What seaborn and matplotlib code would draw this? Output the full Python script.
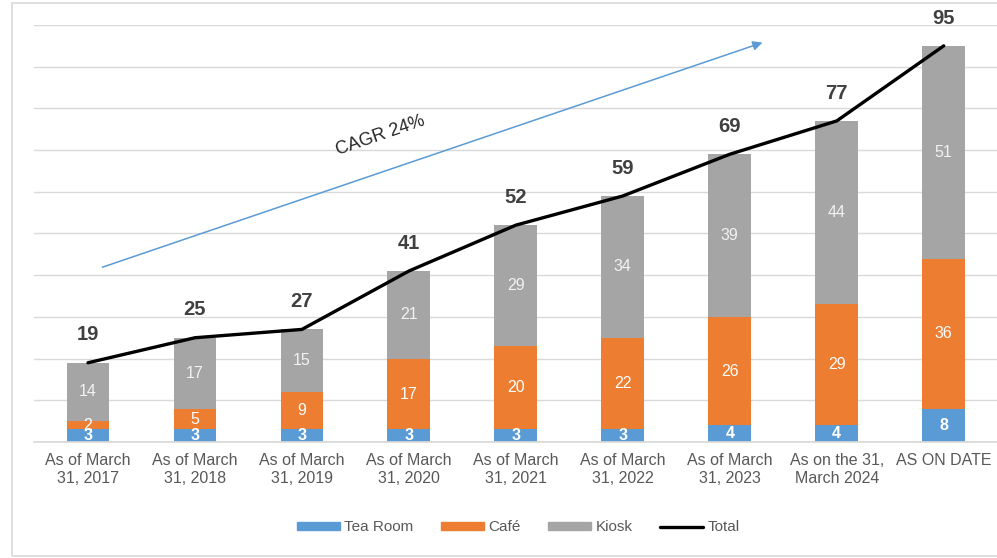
import numpy as np
import pandas as pd
import matplotlib.pyplot as plt
import seaborn as sns
from matplotlib.patches import Rectangle, Patch
from matplotlib.lines import Line2D

# chart data
periods = ["As of March\n31, 2017", "As of March\n31, 2018", "As of March\n31, 2019",
           "As of March\n31, 2020", "As of March\n31, 2021", "As of March\n31, 2022",
           "As of March\n31, 2023", "As on the 31,\nMarch 2024", "AS ON DATE"]
tea_room = [3, 3, 3, 3, 3, 3, 4, 4, 8]
cafe = [2, 5, 9, 17, 20, 22, 26, 29, 36]
kiosk = [14, 17, 15, 21, 29, 34, 39, 44, 51]
cagr_label = "CAGR 24%"

BLUE, ORANGE, GRAY = "#5B9BD5", "#ED7D31", "#A5A5A5"

sns.set_theme(style="white")
plt.rcParams['font.family'] = ['Liberation Sans', 'DejaVu Sans']

df = pd.DataFrame({"period": periods, "tea": tea_room, "cafe": cafe, "kiosk": kiosk})
df["tea_cafe"] = df["tea"] + df["cafe"]
df["total"] = df["tea_cafe"] + df["kiosk"]

fig = plt.figure(figsize=(9.97, 5.58), dpi=100)
fig.patch.set_facecolor("white")
ax = fig.add_axes([0.0346, 0.2079, 0.9656, 0.7473])

# stacked bars by overlapping cumulative heights
sns.barplot(data=df, x="period", y="total", color=GRAY, width=0.4, saturation=1, ax=ax)
sns.barplot(data=df, x="period", y="tea_cafe", color=ORANGE, width=0.4, saturation=1, ax=ax)
sns.barplot(data=df, x="period", y="tea", color=BLUE, width=0.4, saturation=1, ax=ax)
for p in ax.patches:
    p.set_edgecolor("none")

xs = np.arange(len(periods))
sns.lineplot(x=xs, y=df["total"].values, color="black", linewidth=2.4, ax=ax, zorder=5)

# segment labels
for i in range(len(periods)):
    ax.text(i, df["tea"][i] / 2, str(df["tea"][i]), ha="center", va="center",
            color="white", fontsize=11.5, fontweight="bold", zorder=6)
    ax.text(i, df["tea"][i] + df["cafe"][i] / 2, str(df["cafe"][i]), ha="center",
            va="center", color="white", fontsize=11.5, zorder=6)
    ax.text(i, df["tea_cafe"][i] + df["kiosk"][i] / 2, str(df["kiosk"][i]), ha="center",
            va="center", color="#F2F2F2", fontsize=11.5, zorder=6)
    ax.annotate(str(df["total"][i]), (i, df["total"][i]), xytext=(0, 20),
                textcoords="offset points", ha="center", va="center",
                fontsize=14.5, fontweight="bold", color="#404040", zorder=6,
                annotation_clip=False)

# CAGR arrow
ax.annotate("", xy=(6.33, 96), xytext=(0.11, 41.7),
            arrowprops=dict(arrowstyle="-|>", color=BLUE, lw=1.1, mutation_scale=14),
            annotation_clip=False)
ax.text(2.73, 73.5, cagr_label, rotation=19, ha="center", va="center",
        fontsize=13, color="#262626")

ax.set_ylim(0, 100)
ax.set_xlim(-0.5, len(periods) - 0.5)
ax.set_yticks(np.arange(0, 101, 10))
ax.set_yticklabels([])
ax.tick_params(axis="y", length=0)
ax.tick_params(axis="x", length=0, labelsize=11.5, labelcolor="#595959", pad=8)
ax.yaxis.grid(True, color="#D9D9D9", linewidth=1)
ax.set_axisbelow(True)
ax.set_xlabel("")
ax.set_ylabel("")
for s in ["left", "right", "top"]:
    ax.spines[s].set_visible(False)
ax.spines["bottom"].set_color("#D9D9D9")
ax.set_facecolor("none")

handles = [Patch(color=BLUE), Patch(color=ORANGE), Patch(color=GRAY),
           Line2D([0], [0], color="black", lw=2.4)]
leg = fig.legend(handles, ["Tea Room", "Café", "Kiosk", "Total"], loc="center",
                 bbox_to_anchor=(0.52, 0.055), ncol=4, frameon=False, fontsize=11,
                 handlelength=2.8, handleheight=0.45, columnspacing=1.8, handletextpad=0.3)
for t in leg.get_texts():
    t.set_color("#595959")

# outer chart border
fig.patches.append(Rectangle((12 / 997, 2 / 558), 1.0, 553 / 558, transform=fig.transFigure,
                             fill=False, edgecolor="#D9D9D9", linewidth=1.2))

fig.savefig("out.png", dpi=100)
